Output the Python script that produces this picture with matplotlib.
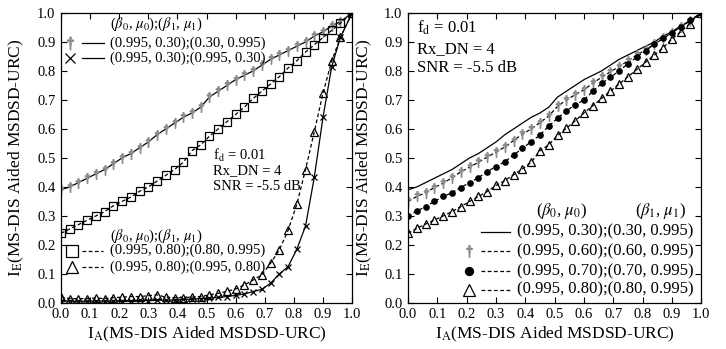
import numpy as np
import matplotlib
matplotlib.use("Agg")
import matplotlib.pyplot as plt

plt.rcParams['font.family'] = ['Liberation Serif', 'DejaVu Serif']
plt.rcParams['mathtext.fontset'] = 'stix'

# I_A sample points (same for every curve)
ia = [0.00, 0.03, 0.06, 0.09, 0.12, 0.15, 0.18, 0.21, 0.24, 0.27, 0.30, 0.33,
      0.36, 0.39, 0.42, 0.45, 0.48, 0.51, 0.54, 0.57, 0.60, 0.63, 0.66, 0.69,
      0.72, 0.75, 0.78, 0.81, 0.84, 0.87, 0.90, 0.93, 0.96, 1.00]

# left panel
ie_030_sym = [0.390, 0.400, 0.415, 0.430, 0.445, 0.460, 0.480, 0.500, 0.515, 0.535, 0.555, 0.580,
              0.600, 0.620, 0.640, 0.655, 0.675, 0.710, 0.730, 0.750, 0.770, 0.785, 0.800, 0.820,
              0.840, 0.855, 0.870, 0.885, 0.900, 0.920, 0.935, 0.955, 0.970, 1.000]
ie_030_same = [0.008, 0.006, 0.006, 0.006, 0.007, 0.006, 0.007, 0.008, 0.008, 0.009, 0.008, 0.009,
               0.010, 0.010, 0.012, 0.013, 0.015, 0.017, 0.019, 0.022, 0.026, 0.031, 0.039, 0.047,
               0.068, 0.100, 0.125, 0.185, 0.265, 0.433, 0.640, 0.815, 0.916, 1.000]
ie_080_sym = [0.240, 0.255, 0.270, 0.285, 0.300, 0.315, 0.335, 0.350, 0.365, 0.385, 0.400, 0.420,
              0.440, 0.460, 0.485, 0.525, 0.545, 0.575, 0.600, 0.625, 0.650, 0.675, 0.705, 0.730,
              0.755, 0.780, 0.810, 0.835, 0.865, 0.890, 0.915, 0.940, 0.965, 1.000]
ie_080_same = [0.020, 0.015, 0.015, 0.015, 0.017, 0.015, 0.018, 0.020, 0.022, 0.022, 0.025, 0.028,
               0.020, 0.018, 0.018, 0.020, 0.022, 0.028, 0.033, 0.040, 0.048, 0.062, 0.079, 0.097,
               0.137, 0.183, 0.250, 0.340, 0.460, 0.590, 0.723, 0.835, 0.916, 1.000]

# right panel
ie_060_sym = [0.350, 0.367, 0.380, 0.398, 0.413, 0.432, 0.452, 0.468, 0.485, 0.503, 0.520, 0.538,
              0.560, 0.582, 0.600, 0.622, 0.645, 0.678, 0.700, 0.718, 0.735, 0.758, 0.778, 0.797,
              0.815, 0.835, 0.855, 0.873, 0.893, 0.912, 0.932, 0.952, 0.972, 1.000]
ie_070_sym = [0.300, 0.317, 0.332, 0.350, 0.367, 0.380, 0.398, 0.415, 0.432, 0.453, 0.470, 0.487,
              0.510, 0.533, 0.556, 0.579, 0.610, 0.637, 0.662, 0.683, 0.700, 0.730, 0.757, 0.778,
              0.800, 0.825, 0.848, 0.870, 0.892, 0.912, 0.932, 0.953, 0.974, 1.000]
ie_080_sym_r = [0.240, 0.257, 0.272, 0.286, 0.300, 0.315, 0.332, 0.350, 0.367, 0.384, 0.405, 0.422,
                0.442, 0.462, 0.485, 0.525, 0.545, 0.578, 0.602, 0.628, 0.655, 0.680, 0.705, 0.730,
                0.755, 0.780, 0.805, 0.830, 0.855, 0.880, 0.910, 0.935, 0.962, 1.000]

ticks = [0.0, 0.1, 0.2, 0.3, 0.4, 0.5, 0.6, 0.7, 0.8, 0.9, 1.0]
xlabel = 'I$_\\mathrm{A}$(MS-DIS Aided MSDSD-URC)'
ylabel = 'I$_\\mathrm{E}$(MS-DIS Aided MSDSD-URC)'
leg_title = r'($\beta_0$, $\mu_0$);($\beta_1$, $\mu_1$)'

DASH = (0, (3, 2))
GREY = '#8c8c8c'
dag = dict(marker='$\u2020$', color=GREY, markersize=7, linestyle='none')
crs = dict(marker='x', color='black', markersize=5, markeredgewidth=0.9, linestyle='none')
sqr = dict(marker='s', mfc='none', mec='black', markersize=5.5, markeredgewidth=0.9, linestyle='none')
tri = dict(marker='^', mfc='none', mec='black', markersize=6, markeredgewidth=0.9, linestyle='none')
dot = dict(marker='o', color='black', markersize=3.8, linestyle='none')


def bigger(mk, f):
    d = dict(mk)
    d['markersize'] = mk['markersize'] * f
    return d


def style_axes(ax):
    ax.set_xlim(0, 1)
    ax.set_ylim(0, 1)
    ax.set_xticks(ticks)
    ax.set_yticks(ticks)
    ax.set_xticklabels(['%.1f' % t for t in ticks])
    ax.set_yticklabels(['%.1f' % t for t in ticks])
    ax.tick_params(direction='in', top=True, right=True, length=4, width=0.8,
                   labelsize=10.5, pad=4)
    for s in ax.spines.values():
        s.set_linewidth(0.9)
    ax.set_xlabel(xlabel, fontsize=12.5)
    ax.set_ylabel(ylabel, fontsize=12.5)


def leg_row(ax, y, mk, ls, text, xm, x0, x1, xt, fs):
    if mk is not None:
        ax.plot([xm], [y], transform=ax.transAxes, clip_on=False, **mk)
    ax.plot([x0, x1], [y, y], transform=ax.transAxes, color='black', lw=0.9, ls=ls)
    ax.text(xt, y, text, transform=ax.transAxes, fontsize=fs, va='center', ha='left')


fig = plt.figure(figsize=(7.26, 3.49), dpi=100)
ax1 = fig.add_axes([0.084, 0.132, 0.401, 0.831])
ax2 = fig.add_axes([0.562, 0.132, 0.404, 0.831])

# ---- left panel
ax1.plot(ia, ie_030_sym, color='black', lw=0.9)
ax1.plot(ia, ie_030_sym, **dag)
ax1.plot(ia, ie_080_sym, color='black', lw=0.9, ls=DASH)
ax1.plot(ia, ie_080_sym, **sqr)
ax1.plot(ia, ie_080_same, color='black', lw=0.9, ls=DASH)
ax1.plot(ia, ie_080_same, **tri)
ax1.plot(ia, ie_030_same, color='black', lw=0.9)
ax1.plot(ia, ie_030_same, **crs)
style_axes(ax1)
ax1.xaxis.set_label_coords(0.5, -0.075)
ax1.yaxis.set_label_coords(-0.12, 0.5)

ax1.text(0.168, 0.959, leg_title, transform=ax1.transAxes, fontsize=10.5, va='center')
leg_row(ax1, 0.897, bigger(dag, 1.3), '-', '(0.995, 0.30);(0.30, 0.995)', 0.031, 0.072, 0.148, 0.168, 10.5)
leg_row(ax1, 0.843, bigger(crs, 1.4), '-', '(0.995, 0.30);(0.995, 0.30)', 0.031, 0.072, 0.148, 0.168, 10.5)

ax1.text(0.168, 0.231, leg_title, transform=ax1.transAxes, fontsize=10.5, va='center')
leg_row(ax1, 0.180, bigger(sqr, 1.45), DASH, '(0.995, 0.80);(0.80, 0.995)', 0.038, 0.072, 0.145, 0.168, 10.5)
leg_row(ax1, 0.124, bigger(tri, 1.5), DASH, '(0.995, 0.80);(0.995, 0.80)', 0.038, 0.072, 0.145, 0.168, 10.5)

ax1.text(0.522, 0.51, 'f$_\\mathrm{d}$ = 0.01', transform=ax1.transAxes, fontsize=10.5, va='center')
ax1.text(0.522, 0.455, 'Rx_DN = 4', transform=ax1.transAxes, fontsize=10.5, va='center')
ax1.text(0.522, 0.403, 'SNR = -5.5 dB', transform=ax1.transAxes, fontsize=10.5, va='center')

# ---- right panel
ax2.plot(ia, ie_030_sym, color='black', lw=0.9)
ax2.plot(ia, ie_060_sym, color='black', lw=0.9, ls=DASH)
ax2.plot(ia, ie_060_sym, **dag)
ax2.plot(ia, ie_070_sym, color='black', lw=0.9, ls=DASH)
ax2.plot(ia, ie_070_sym, **dot)
ax2.plot(ia, ie_080_sym_r, color='black', lw=0.9, ls=DASH)
ax2.plot(ia, ie_080_sym_r, **tri)
style_axes(ax2)
ax2.xaxis.set_label_coords(0.5, -0.075)
ax2.yaxis.set_label_coords(-0.115, 0.5)

ax2.text(0.031, 0.948, 'f$_\\mathrm{d}$ = 0.01', transform=ax2.transAxes, fontsize=12, va='center')
ax2.text(0.031, 0.876, 'Rx_DN = 4', transform=ax2.transAxes, fontsize=12, va='center')
ax2.text(0.031, 0.810, 'SNR = -5.5 dB', transform=ax2.transAxes, fontsize=12, va='center')

ax2.text(0.437, 0.317, r'($\beta_0$, $\mu_0$)', transform=ax2.transAxes, fontsize=12, va='center')
ax2.text(0.775, 0.317, r'($\beta_1$, $\mu_1$)', transform=ax2.transAxes, fontsize=12, va='center')
leg_row(ax2, 0.245, None, '-', '(0.995, 0.30);(0.30, 0.995)', 0.208, 0.249, 0.348, 0.372, 12)
leg_row(ax2, 0.179, bigger(dag, 1.2), DASH, '(0.995, 0.60);(0.60, 0.995)', 0.208, 0.249, 0.348, 0.372, 12)
leg_row(ax2, 0.110, bigger(dot, 1.5), DASH, '(0.995, 0.70);(0.70, 0.995)', 0.208, 0.249, 0.348, 0.372, 12)
leg_row(ax2, 0.045, bigger(tri, 1.5), DASH, '(0.995, 0.80);(0.80, 0.995)', 0.208, 0.249, 0.348, 0.372, 12)

fig.savefig('out.png', dpi=100)
